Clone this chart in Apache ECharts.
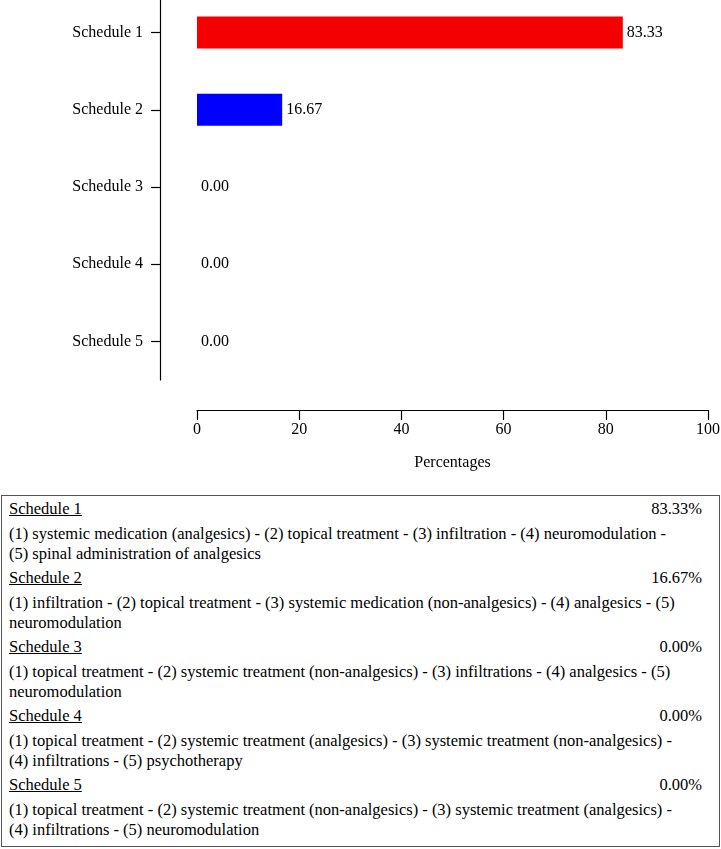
<!DOCTYPE html>
<html>
<head>
<meta charset="utf-8">
<script src="https://cdn.jsdelivr.net/npm/echarts@6/dist/echarts.min.js"></script>
<style>
    body { margin: 0; background: #fff; font-family: 'Liberation Serif', serif; }
    #main { position: absolute; left: 0; top: 0; width: 721px; height: 490px; }
    #box {
        position: absolute; left: 1px; top: 495px; width: 717px; height: 350px;
        border: 1px solid #555; font-size: 16.5px; color: #000;
    }
    .row { position: absolute; left: 7px; right: 17px; line-height: 20px; white-space: nowrap; }
    .head { text-decoration: underline; }
    .pct { position: absolute; right: 0; top: 0; }
    .desc { line-height: 19.5px; }
</style>
</head>
<body>
<div id="main"></div>
<div id="box"></div>
<script>
const categories = ['Schedule 1', 'Schedule 2', 'Schedule 3', 'Schedule 4', 'Schedule 5'];
const percentages = [83.33, 16.67, 0, 0, 0];
const barColors = ['#f50000', '#0000ff', '#888888', '#888888', '#888888'];
const xTicks = [0, 20, 40, 60, 80, 100];
const descriptions = [
    ['(1) systemic medication (analgesics) - (2) topical treatment - (3) infiltration - (4) neuromodulation -', '(5) spinal administration of analgesics'],
    ['(1) infiltration - (2) topical treatment - (3) systemic medication (non-analgesics) - (4) analgesics - (5)', 'neuromodulation'],
    ['(1) topical treatment - (2) systemic treatment (non-analgesics) - (3) infiltrations - (4) analgesics - (5)', 'neuromodulation'],
    ['(1) topical treatment - (2) systemic treatment (analgesics) - (3) systemic treatment (non-analgesics) -', '(4) infiltrations - (5) psychotherapy'],
    ['(1) topical treatment - (2) systemic treatment (non-analgesics) - (3) systemic treatment (analgesics) -', '(4) infiltrations - (5) neuromodulation']
];

var myChart = echarts.init(document.getElementById('main'));
var option = {
    animation: false,
    textStyle: { fontFamily: 'Liberation Serif' },
    grid: { left: 197, right: 13, top: -6, height: 386, outerBoundsMode: 'none', containLabel: false },
    xAxis: {
        type: 'value',
        min: xTicks[0],
        max: xTicks[xTicks.length - 1],
        interval: 20,
        position: 'bottom',
        offset: 30,
        name: 'Percentages',
        nameLocation: 'middle',
        nameGap: 45,
        nameTextStyle: { color: '#000', fontSize: 16, fontFamily: 'Liberation Serif' },
        axisLine: { show: true, onZero: false, lineStyle: { color: '#000', width: 1.2 } },
        axisTick: { show: true, length: 10, lineStyle: { color: '#000', width: 1.2 } },
        axisLabel: { color: '#000', fontSize: 16, margin: 12, fontFamily: 'Liberation Serif' },
        splitLine: { show: false }
    },
    yAxis: {
        type: 'category',
        data: categories,
        inverse: true,
        offset: 37,
        axisLine: { show: true, onZero: false, lineStyle: { color: '#000', width: 1.2 } },
        axisTick: { show: true, alignWithLabel: true, length: 9, lineStyle: { color: '#000', width: 1.2 } },
        axisLabel: { color: '#000', fontSize: 16, margin: 17, fontFamily: 'Liberation Serif' }
    },
    series: [{
        type: 'bar',
        barWidth: 32,
        data: percentages.map((v, i) => ({ value: v, itemStyle: { color: barColors[i] } })),
        label: {
            show: true,
            position: 'right',
            distance: 4,
            color: '#000',
            fontSize: 16,
            fontFamily: 'Liberation Serif',
            formatter: p => p.value.toFixed(2)
        }
    }]
};
myChart.setOption(option);

// legend box below the chart
var box = document.getElementById('box');
var y = 13;
categories.forEach((c, i) => {
    var h = document.createElement('div');
    h.className = 'row';
    h.style.top = (y - 10) + 'px';
    h.innerHTML = '<span class="head">' + c + '</span><span class="pct">' + percentages[i].toFixed(2) + '%</span>';
    box.appendChild(h);
    var d = document.createElement('div');
    d.className = 'row desc';
    d.style.top = (y + 25 - 10) + 'px';
    d.innerHTML = descriptions[i].join('<br>');
    box.appendChild(d);
    y += 69;
});
</script>
</body>
</html>
